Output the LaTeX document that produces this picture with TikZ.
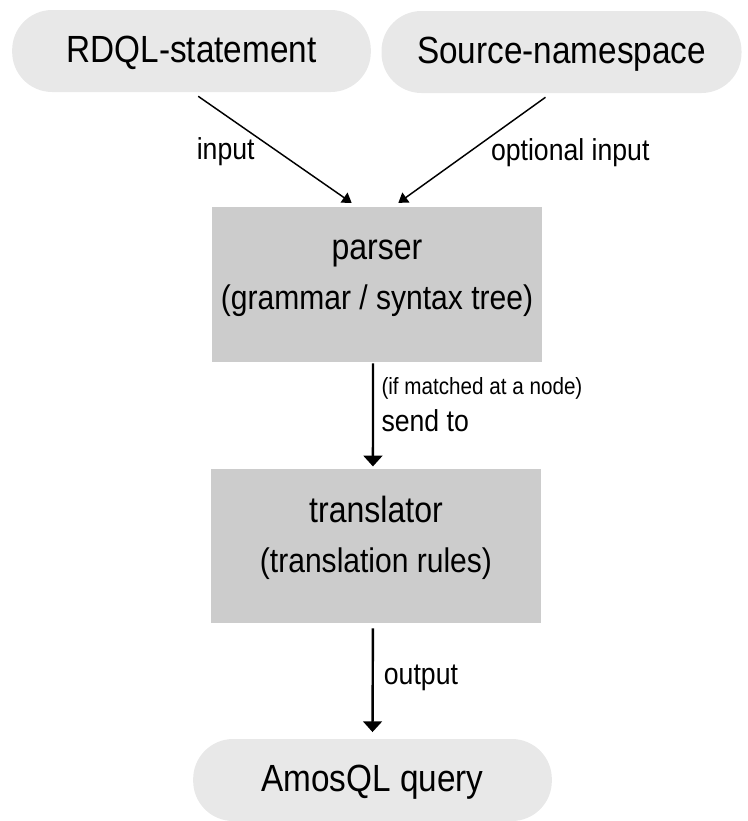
\documentclass[tikz,border=0pt]{standalone}
\usepackage{fontspec}
\setmainfont[FakeStretch=0.88]{Liberation Sans}
\usetikzlibrary{arrows.meta,positioning}
\definecolor{pillgray}{HTML}{E8E8E8}
\definecolor{boxgray}{HTML}{CCCCCC}

\begin{document}
\begin{tikzpicture}[x=0.75pt,y=-0.75pt,
  pill/.style={fill=pillgray,rounded corners=30pt,minimum height=61.5pt,inner sep=0pt,
    text height=22pt,text depth=5.5pt,font=\fontsize{28.4}{34}\selectfont},
  stage/.style={fill=boxgray,minimum width=247.5pt,minimum height=116pt,inner sep=0pt},
  stagetitle/.style={anchor=base,inner sep=0pt,font=\fontsize{27.3}{33}\selectfont},
  stagenote/.style={anchor=base,inner sep=0pt,font=\fontsize{25.6}{31}\selectfont},
  flow/.style={-{Triangle[length=8pt,width=14pt]},line width=1.8pt},
  feed/.style={-{Triangle[length=7pt,width=9pt]},line width=1.1pt},
  edgelabel/.style={font=\fontsize{22.7}{27}\selectfont,inner sep=0pt},
  note/.style={font=\fontsize{17.6}{21}\selectfont,inner sep=0pt}]
  \useasboundingbox (0,0) rectangle (748,821);

  % inputs
  \node[pill,minimum width=269pt] (rdql) at (191.5,51) {RDQL-statement};
  \node[pill,minimum width=270pt] (srcns) at (561.5,52) {Source-namespace};

  % stages
  \node[stage] (parser) at (377,284.5) {};
  \node[stagetitle,yshift=18.7pt] (parsertitle) at (parser.center) {parser};
  \node[stagenote,yshift=-18.7pt] (parsernote) at (parser.center) {(grammar / syntax tree)};
  \node[stage] (translator) at (376,546) {};
  \node[stagetitle,yshift=17.3pt] (translatortitle) at (translator.center) {translator};
  \node[stagenote,yshift=-19.5pt] (translatornote) at (translator.center) {(translation rules)};

  % result
  \node[pill,minimum width=269pt] (query) at (372.5,780) {AmosQL query};

  \draw[feed] ([xshift=5pt,yshift=-3pt]rdql.south) -- ([xshift=-19pt,yshift=3pt]parser.north)
    node[edgelabel,pos=0.52,left=17pt] (inputlbl) {input};
  \draw[feed] ([xshift=-12pt,yshift=-3pt]srcns.south) -- ([xshift=16pt,yshift=3pt]parser.north)
    node[edgelabel,pos=0.52,right=16pt] (optlbl) {optional input};
  \draw[flow] ([xshift=-3pt,yshift=-1pt]parser.south) -- ([xshift=-2.3pt,yshift=1.5pt]translator.north)
    node[note,pos=0.24,right=5.5pt] (matchlbl) {(if matched at a node)}
    node[edgelabel,pos=0.56,right=5.5pt] (sendlbl) {send to};
  \draw[flow] ([xshift=-2.3pt,yshift=-3.5pt]translator.south) -- ([xshift=0pt,yshift=5pt]query.north)
    node[edgelabel,pos=0.48,right=7.5pt] (outlbl) {output};
\end{tikzpicture}
\end{document}
